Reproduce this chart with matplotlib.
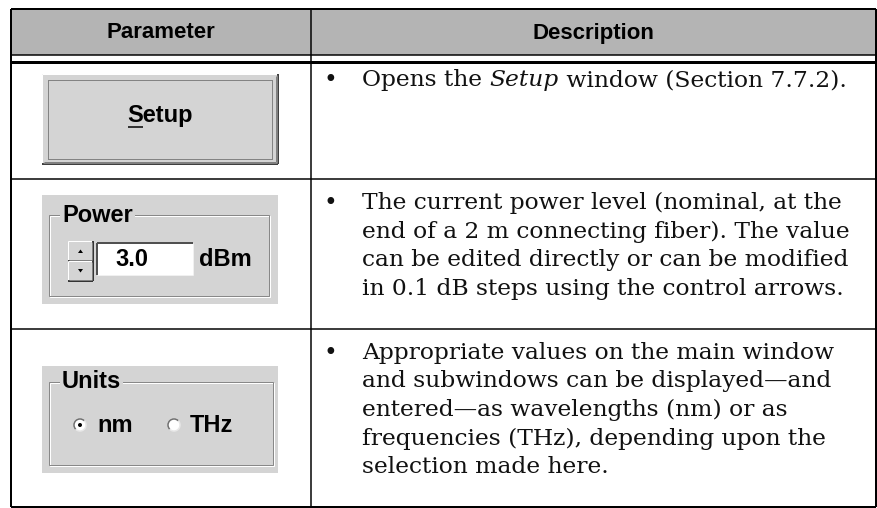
import matplotlib.pyplot as plt
from matplotlib.patches import Rectangle, Circle, Polygon, Arc

# table content
headers = ['Parameter', 'Description']
button_label = 'Setup'
power_label = 'Power'
power_value = '3.0'
power_unit = 'dBm'
units_label = 'Units'
unit_options = ['nm', 'THz']
unit_selected = 'nm'
# *word* marks italic
descriptions = [
    ['Opens the *Setup* window (Section 7.7.2).'],
    ['The current power level (nominal, at the',
     'end of a 2 m connecting fiber). The value',
     'can be edited directly or can be modified',
     'in 0.1 dB steps using the control arrows.'],
    ['Appropriate values on the main window',
     'and subwindows can be displayed\u2014and',
     'entered\u2014as wavelengths (nm) or as',
     'frequencies (THz), depending upon the',
     'selection made here.'],
]

# layout, in pixels
W, H = 878, 508
XL, XM, XR = 11, 311, 876
Y_TOP, Y_HEAD, Y_HEAD2 = 9, 55, 62
ROW_BOTTOMS = [179, 329, 507]
LINE_STEP = 28.5
FIRST_LINE = [80, 203, 353]
BULLET_X, TEXT_X = 330, 362

HEAD_GRAY = '#b4b4b4'
PANEL = '#d4d4d4'
SERIF = dict(family='DejaVu Serif', size=16.8, color='#111111')
UI = dict(family='Liberation Sans', weight='bold', size=17, color='black')

fig = plt.figure(figsize=(W / 100, H / 100), dpi=100)
ax = fig.add_axes([0, 0, 1, 1])
ax.set_xlim(0, W)
ax.set_ylim(H, 0)
ax.axis('off')
r = fig.canvas.get_renderer()


def px(v):
    return v * 0.72


def seg(x0, y0, x1, y1, w=1, c='black', z=3):
    ax.plot([x0, x1], [y0, y1], color=c, lw=px(w), solid_capstyle='butt', zorder=z)


def width(s, **kw):
    t = ax.text(0, 0, s, **kw)
    w = t.get_window_extent(renderer=r).width
    t.remove()
    return w


def raised(x0, y0, x1, y1, fill=PANEL, shadow=1):
    ax.add_patch(Rectangle((x0, y0), x1 - x0, y1 - y0, fc=fill, ec='none', zorder=2))
    seg(x0, y0, x1, y0, 1, '#ffffff')
    seg(x0, y0, x0, y1, 1, '#ffffff')
    seg(x0, y1, x1, y1, 1.5, 'black')
    seg(x1, y0, x1, y1, 1.5, 'black')
    for k in range(1, shadow + 1):
        seg(x0 + k, y1 - k, x1 - k, y1 - k, 1, '#808080')
        seg(x1 - k, y0 + k, x1 - k, y1 - k, 1, '#808080')


def groupbox(x0, y0, x1, y1, fx0, fy0, fx1, fy1, label):
    ax.add_patch(Rectangle((x0, y0), x1 - x0, y1 - y0, fc=PANEL, ec='none', zorder=1))
    for dx, c in [(1, '#ffffff'), (0, '#888888')]:
        ax.add_patch(Rectangle((fx0 + dx, fy0 + dx), fx1 - fx0, fy1 - fy0, fill=False,
                               ec=c, lw=px(1), zorder=2))
    ax.text(fx0 + 13, fy0, label, ha='left', va='center', zorder=4,
            bbox=dict(fc=PANEL, ec='none', pad=1.5), **UI)


# header
ax.add_patch(Rectangle((XL, Y_TOP), XR - XL, Y_HEAD - Y_TOP, fc=HEAD_GRAY, ec='none', zorder=1))
for txt, (a, b) in zip(headers, [(XL, XM), (XM, XR)]):
    ax.text((a + b) / 2, (Y_TOP + Y_HEAD) / 2 + 1, txt, ha='center', va='center',
            family='Liberation Sans', weight='bold', size=16)

# grid lines
seg(XL, Y_TOP, XR, Y_TOP, 2)
seg(XL, Y_HEAD, XR, Y_HEAD, 1.5)
seg(XL, Y_HEAD2, XR, Y_HEAD2, 3)
for yb in ROW_BOTTOMS[:-1]:
    seg(XL, yb, XR, yb, 1.5)
seg(XL, ROW_BOTTOMS[-1], XR, ROW_BOTTOMS[-1], 2)
seg(XL, Y_TOP, XL, ROW_BOTTOMS[-1], 2)
seg(XR, Y_TOP, XR, ROW_BOTTOMS[-1], 2)
seg(XM, Y_TOP, XM, ROW_BOTTOMS[-1], 1.5)

# descriptions
for lines, y0 in zip(descriptions, FIRST_LINE):
    ax.text(BULLET_X, y0, '\u2022', ha='center', va='center', **SERIF)
    for i, line in enumerate(lines):
        y = y0 + i * LINE_STEP
        x = TEXT_X
        for k, part in enumerate(line.split('*')):
            if not part:
                continue
            style = 'italic' if k % 2 else 'normal'
            ax.text(x, y, part, ha='left', va='center', style=style, **SERIF)
            x += width(part + 'x', style=style, **SERIF) - width('x', style=style, **SERIF)

# Setup button
raised(42, 74, 278, 164, shadow=2)
ax.add_patch(Rectangle((48, 80), 224, 79, fill=False, ec='#333333', lw=px(1),
                       ls=(0, (1, 1)), zorder=3))
cx = 160
wfull = width(button_label, **UI)
ax.text(cx, 122, button_label, ha='center', va='baseline', zorder=4, **UI)
ws = width(button_label[0], **UI)
seg(cx - wfull / 2 + 1, 127, cx - wfull / 2 + ws, 127, 1.5, 'black', 4)

# Power group
groupbox(42, 195, 278, 304, 49, 215, 269, 296, power_label)
raised(68, 241, 93, 261)
raised(68, 261, 93, 281)
ax.add_patch(Polygon([(78, 253), (83, 253), (80.5, 249.5)], fc='black', ec='none', zorder=4))
ax.add_patch(Polygon([(78, 269), (83, 269), (80.5, 272.5)], fc='black', ec='none', zorder=4))
ax.add_patch(Rectangle((97, 243), 96, 32, fc='white', ec='none', zorder=2))
seg(97, 243, 193, 243, 2, '#505050')
seg(97, 243, 97, 275, 2, '#505050')
seg(97, 275, 193, 275, 1, '#f0f0f0')
seg(193, 243, 193, 275, 1, '#f0f0f0')
ax.text(115, 259, power_value, ha='left', va='center', zorder=4, **UI)
ax.text(199, 259, power_unit, ha='left', va='center', zorder=4, **UI)

# Units group
groupbox(42, 366, 278, 473, 49, 382, 273, 465, units_label)
for opt, rx, tx in zip(unit_options, [80, 174], [97, 190]):
    ax.add_patch(Circle((rx, 425), 6, fc='white', ec='none', zorder=3))
    ax.add_patch(Arc((rx, 425), 12, 12, theta1=135, theta2=315, ec='#707070', lw=px(1.5), zorder=4))
    ax.add_patch(Arc((rx, 425), 12, 12, theta1=315, theta2=495, ec='#e8e8e8', lw=px(1.5), zorder=4))
    if opt == unit_selected:
        ax.add_patch(Circle((rx, 425), 2, fc='black', ec='none', zorder=5))
    ax.text(tx, 426, opt, ha='left', va='center', zorder=4, **UI)

fig.savefig('out.png', dpi=100, facecolor='white')
